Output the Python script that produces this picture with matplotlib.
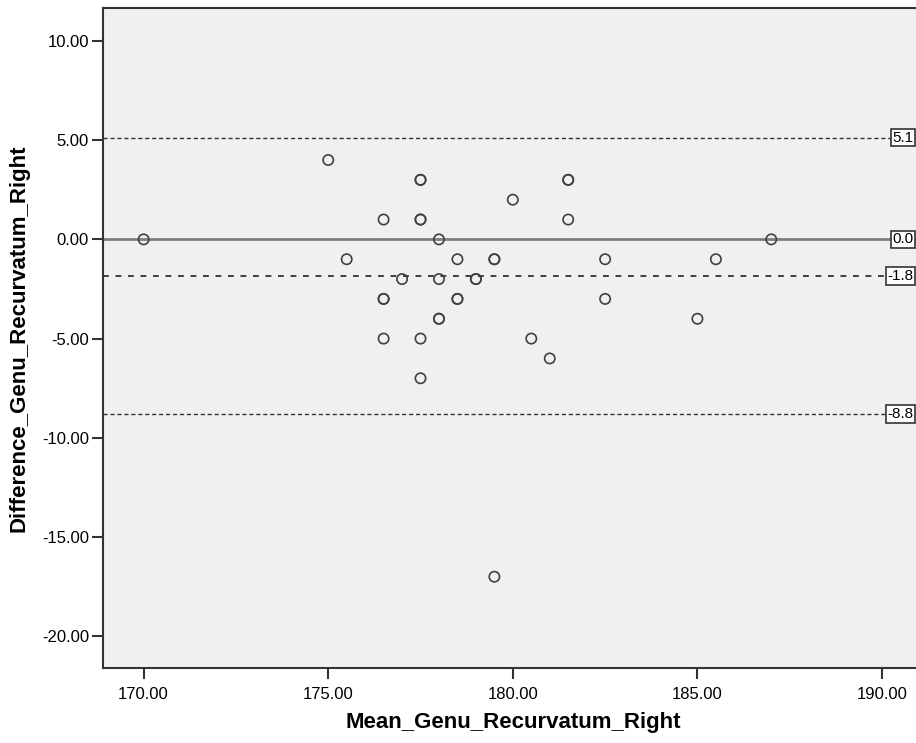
import matplotlib.pyplot as plt
from matplotlib import ticker

plt.rcParams['font.family'] = ['Liberation Sans', 'DejaVu Sans']

# data (duplicates drawn twice -> bolder rings)
mean_vals = [170.0, 175.0, 175.5, 176.5, 176.5, 176.5, 176.5, 177.0,
             177.5, 177.5, 177.5, 177.5, 177.5, 177.5, 178.0, 178.0,
             178.0, 178.0, 178.5, 178.5, 178.5, 179.0, 179.0, 179.5,
             179.5, 179.5, 180.0, 180.5, 181.0, 181.5, 181.5, 181.5,
             182.5, 182.5, 185.0, 185.5, 187.0]
diff_vals = [0, 4, -1, 1, -3, -3, -5, -2,
             3, 3, 1, 1, -5, -7, 0, -2,
             -4, -4, -1, -3, -3, -2, -2, -1,
             -1, -17, 2, -5, -6, 3, 3, 1,
             -1, -3, -4, -1, 0]
upper_loa = 5.13
mean_diff = -1.84
lower_loa = -8.81
ref_lines = [upper_loa, 0.0, mean_diff, lower_loa]
ref_labels = ['5.1', '0.0', '-1.8', '-8.8']

xticks = [170, 175, 180, 185, 190]
yticks = [10, 5, 0, -5, -10, -15, -20]

fig = plt.figure(figsize=(9.16, 7.43), dpi=100)
ax = fig.add_axes([103/916, 1-668/743, 1-103/916, 660/743])
ax.set_facecolor('#f0f0f0')

ax.axhline(0, color='#7f7f7f', lw=2, zorder=2)
ax.axhline(upper_loa, color='#333333', lw=1, ls=(0, (3, 2)), zorder=2)
ax.axhline(lower_loa, color='#333333', lw=1, ls=(0, (3, 2)), zorder=2)
ax.axhline(mean_diff, color='#222222', lw=1.2, ls=(0, (3.5, 4)), zorder=2)

ax.scatter(mean_vals, diff_vals, s=55, facecolors='none',
           edgecolors='#404040', linewidths=1.2, zorder=3)

# line labels at the right edge
for yv, lab in zip(ref_lines, ref_labels):
    ax.text(0.997, yv, lab, transform=ax.get_yaxis_transform(), ha='right',
            va='center', fontsize=11,
            bbox=dict(boxstyle='square,pad=0.12', fc='white', ec='#333333', lw=1.2),
            zorder=4)

ax.set_xlim(168.9, 190.92)
ax.set_ylim(-21.6, 11.66)
ax.set_xticks(xticks)
ax.set_yticks(yticks)
ax.xaxis.set_major_formatter(ticker.FormatStrFormatter('%.2f'))
ax.yaxis.set_major_formatter(ticker.FormatStrFormatter('%.2f'))
ax.tick_params(axis='both', direction='out', length=8, width=1.5,
               color='#333333', labelsize=12)
ax.tick_params(axis='x', pad=6)
ax.tick_params(axis='y', pad=2)

ax.spines['right'].set_visible(False)
for side in ['left', 'bottom', 'top']:
    ax.spines[side].set_color('#333333')
    ax.spines[side].set_linewidth(1.5)

ax.set_xlabel('Mean_Genu_Recurvatum_Right', fontsize=16, fontweight='bold')
ax.set_ylabel('Difference_Genu_Recurvatum_Right', fontsize=16, fontweight='bold')
ax.xaxis.set_label_coords(0.504, -0.066)
ax.yaxis.set_label_coords(-0.091, 0.5)

fig.savefig('out.png', dpi=100)
